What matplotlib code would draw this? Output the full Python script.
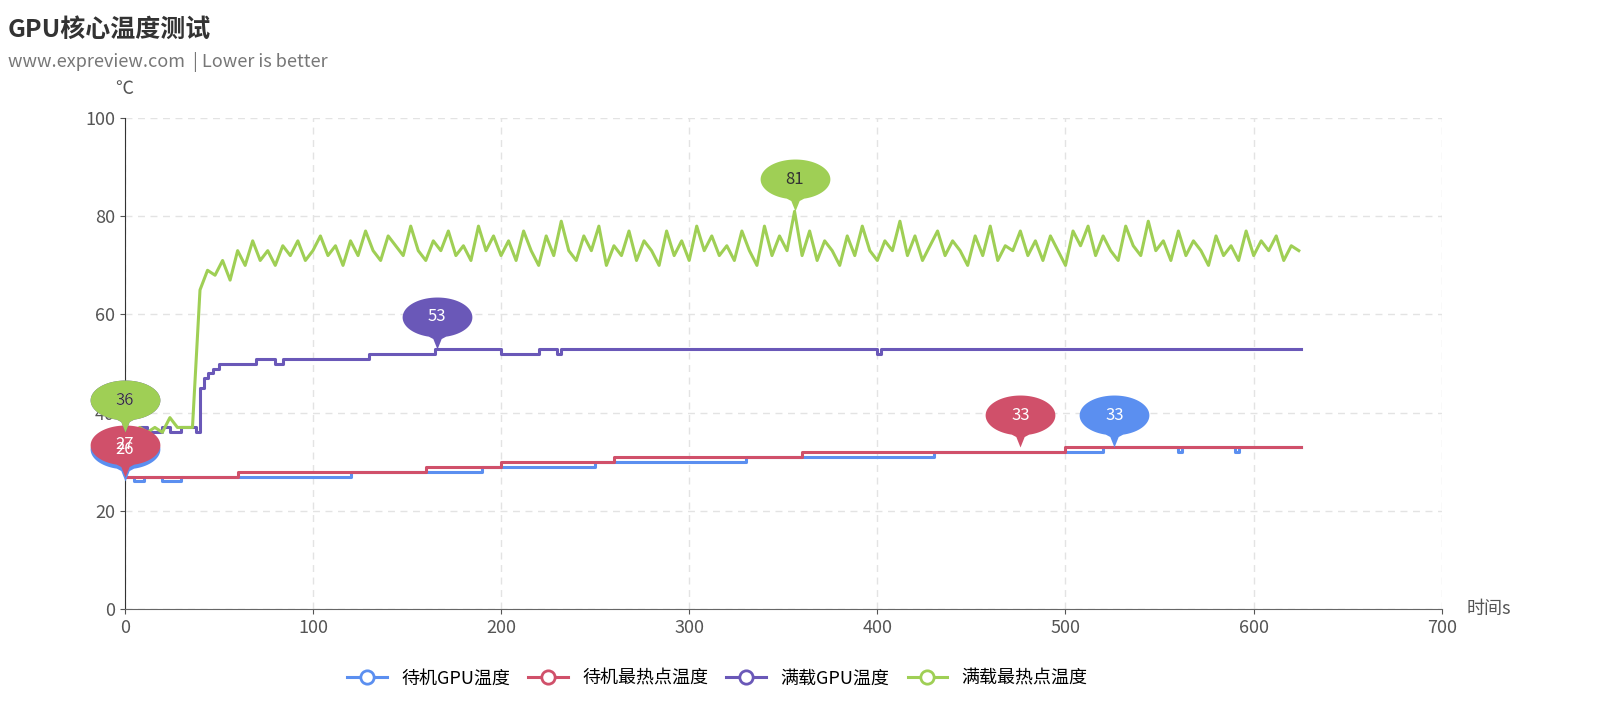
import numpy as np
import matplotlib.pyplot as plt
from matplotlib.path import Path

plt.rcParams['font.family'] = ['Noto Sans CJK SC', 'DejaVu Sans']

# 满载最热点温度, sampled every 4 s (0..624)
hot_t = list(range(0, 625, 4))
hot_full = [36, 36, 37, 36, 37, 36, 39, 37, 37, 37,
            65, 69, 68, 71, 67, 73, 70, 75, 71, 73,
            70, 74, 72, 75, 71, 73, 76, 72, 74, 70,
            75, 72, 77, 73, 71, 76, 74, 72, 78, 73,
            71, 75, 73, 77, 72, 74, 71, 78, 73, 76,
            72, 75, 71, 77, 73, 70, 76, 72, 79, 73,
            71, 76, 73, 78, 70, 74, 72, 77, 71, 75,
            73, 70, 77, 72, 75, 71, 78, 73, 76, 72,
            74, 71, 77, 73, 70, 78, 72, 76, 73, 81,
            72, 77, 71, 75, 73, 70, 76, 72, 78, 73,
            71, 75, 73, 79, 72, 76, 71, 74, 77, 72,
            75, 73, 70, 76, 72, 78, 71, 74, 73, 77,
            72, 75, 71, 76, 73, 70, 77, 74, 78, 72,
            76, 73, 71, 78, 74, 72, 79, 73, 75, 71,
            77, 72, 75, 73, 70, 76, 72, 74, 71, 77,
            72, 75, 73, 76, 71, 74, 73]

# step series: change times and values
gpu_full_t = [0, 8, 12, 20, 24, 30, 38, 40, 42, 44, 47, 50, 70, 80, 84, 110, 130, 140, 165, 200, 220, 230, 232, 400, 402, 625]
gpu_full = [36, 37, 36, 37, 36, 37, 36, 45, 47, 48, 49, 50, 51, 50, 51, 51, 52, 52, 53, 52, 53, 52, 53, 52, 53, 53]
gpu_idle_t = [0, 5, 10, 20, 30, 60, 120, 190, 250, 330, 430, 520, 560, 562, 590, 592, 625]
gpu_idle = [27, 26, 27, 26, 27, 27, 28, 29, 30, 31, 32, 33, 32, 33, 32, 33, 33]
hot_idle_t = [0, 60, 160, 200, 260, 360, 500, 625]
hot_idle = [27, 28, 29, 30, 31, 32, 33, 33]

names = ['待机GPU温度', '待机最热点温度', '满载GPU温度', '满载最热点温度']
colors = ['#5B8FF0', '#D0506A', '#6A58B8', '#9FCF55']

# teardrop pin marker, tip at origin; symmetric vertical extent so centre stays at tip
th = np.linspace(-np.pi / 2 + 0.25, 3 * np.pi / 2 - 0.25, 80)
body = [(1.0 * np.cos(a), 0.92 + 0.57 * np.sin(a)) for a in th]
verts = [(0, 0)] + [(0.12, 0.3)] + body + [(-0.12, 0.3), (0, 0)]
pin = Path(verts)

fig = plt.figure(figsize=(16.2, 7.2), dpi=100)
ax = fig.add_axes([0.077, 0.154, 0.813, 0.682])

series = [(gpu_idle_t, gpu_idle, True), (hot_idle_t, hot_idle, True),
          (gpu_full_t, gpu_full, True), (hot_t, hot_full, False)]
for (t, v, step), name, c in zip(series, names, colors):
    if step:
        ax.step(t, v, where='post', color=c, lw=2.2, label=name,
                marker='o', markevery=[], mfc='white', mec=c, mew=2)
    else:
        ax.plot(t, v, color=c, lw=2.2, label=name,
                marker='o', markevery=[], mfc='white', mec=c, mew=2)

pins = [(0, 26, colors[0]), (526, 33, colors[0]),
        (0, 27, colors[1]), (476, 33, colors[1]),
        (0, 36, colors[2]), (166, 53, colors[2]),
        (0, 36, colors[3]), (356, 81, colors[3])]
for x, y, c in pins:
    ax.scatter([x], [y], marker=pin, s=5600, color=c, zorder=5, clip_on=False, linewidths=0)
    ax.annotate(str(y), (x, y), xytext=(0, 23), textcoords='offset points',
                ha='center', va='center', color='white' if c != colors[3] else '#333333',
                fontsize=12, zorder=6, annotation_clip=False)

ax.set_xlim(0, 700)
ax.set_ylim(0, 100)
ax.set_xticks(range(0, 701, 100))
ax.set_yticks(range(0, 101, 20))
ax.grid(True, ls=(0, (5, 4)), color='#E3E3E3', lw=1)
for s in ['top', 'right']:
    ax.spines[s].set_visible(False)
ax.spines['left'].set_color('#333333')
ax.spines['bottom'].set_color('#666666')
ax.tick_params(labelsize=13, colors='#555555')
ax.text(-5, 104, '℃', fontsize=13, color='#555555', ha='left', va='bottom')
ax.text(713, 0, '时间s', fontsize=13, color='#555555', ha='left', va='center')

fig.text(0.005, 0.975, 'GPU核心温度测试', fontsize=18, fontweight='bold', color='#333333', va='top')
fig.text(0.005, 0.928, 'www.expreview.com  | Lower is better', fontsize=13, color='#777777', va='top')

ax.legend(loc='upper center', bbox_to_anchor=(0.45, -0.09), ncol=4, frameon=False,
          fontsize=13, markerscale=1.6, handlelength=2.2, columnspacing=1.0)

fig.savefig('out.png', dpi=100)
